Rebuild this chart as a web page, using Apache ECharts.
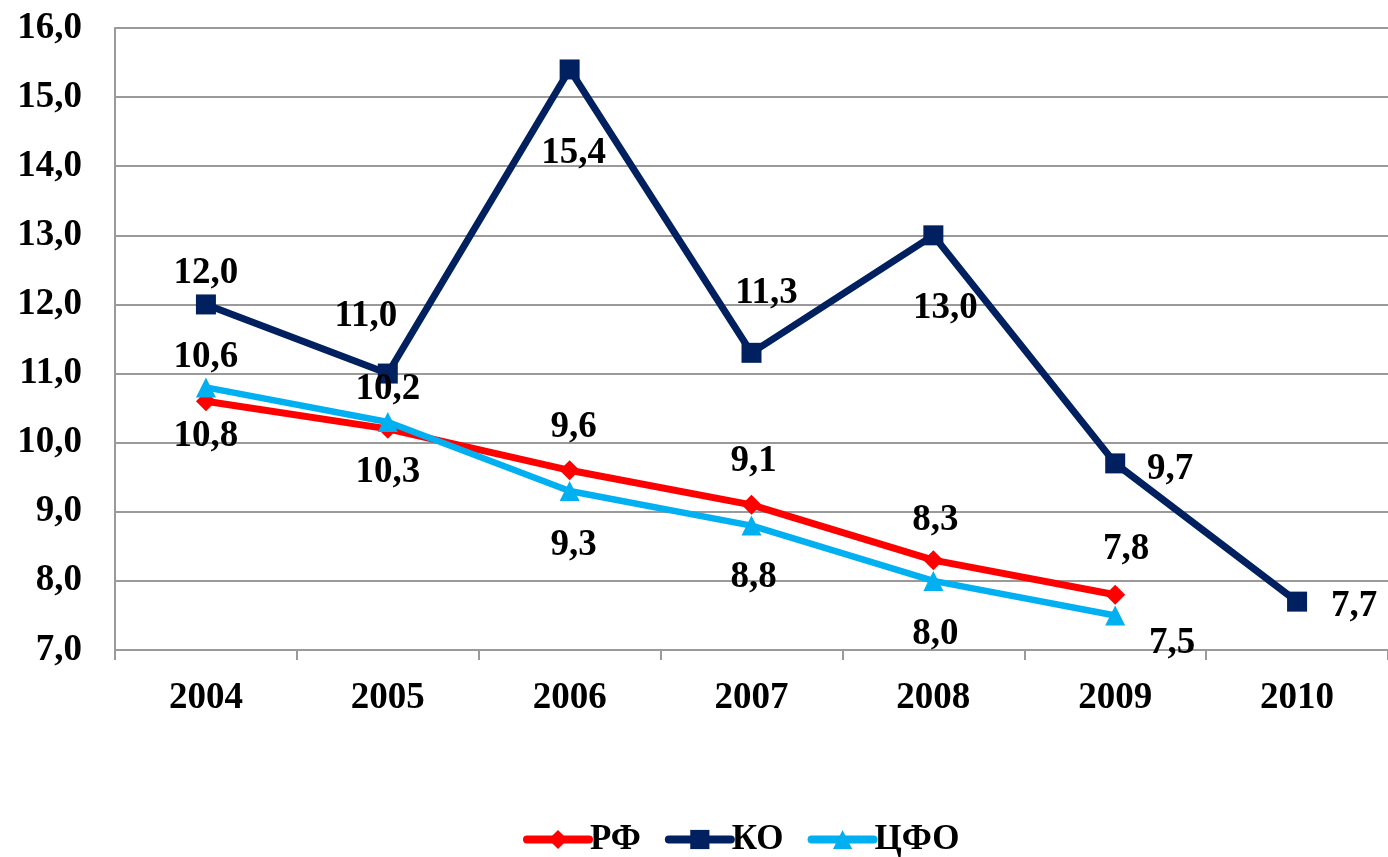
<!DOCTYPE html>
<html>
<head>
<meta charset="utf-8">
<script src="https://cdn.jsdelivr.net/npm/echarts@6/dist/echarts.min.js"></script>
<style>
html,body{margin:0;padding:0;background:#fff;}
#chart{width:1388px;height:857px;}
</style>
</head>
<body>
<div id="chart"></div>
<script>
var categories = ['2004','2005','2006','2007','2008','2009','2010'];
var seriesNames = ['РФ','КО','ЦФО'];
var valuesRF  = [10.6, 10.2, 9.6, 9.1, 8.3, 7.8, null];
var valuesKO  = [12.0, 11.0, 15.4, 11.3, 13.0, 9.7, 7.7];
var valuesCFO = [10.8, 10.3, 9.3, 8.8, 8.0, 7.5, null];

// label placement (style only)
var offRF  = [[0,-44],[0,-39],[4,-43],[2,-43],[2,-40],[11,-45],[0,0]];
var offKO  = [[0,-31],[-22,-57],[4,84],[15,-59],[12,73],[55,6],[57,5]];
var offCFO = [[0,49],[0,51],[4,54],[2,52],[2,54],[57,28],[0,0]];

var FONT = '"Liberation Serif", "Times New Roman", serif';
var GRAY = '#9a9a9a';

function fmt(v){ return v.toFixed(1).replace('.', ','); }
function build(vals, offs){
  return vals.map(function(v,i){
    if (v === null) return null;
    return {value: v, label: {offset: offs[i]}};
  });
}
function labelCfg(){
  return {
    show: true, position: 'inside', color: '#000',
    fontFamily: FONT, fontWeight: 'bold', fontSize: 37,
    formatter: function(p){ return fmt(p.value); }
  };
}

var chart = echarts.init(document.getElementById('chart'), null, {renderer:'canvas'});
chart.setOption({
  animation: false,
  backgroundColor: '#fff',
  grid: {left: 115, top: 28, width: 1276, height: 622, containLabel: false},
  legend: {
    data: seriesNames,
    left: 518, top: 817,
    itemWidth: 62, itemHeight: 24, itemGap: 24,
    lineStyle: {width: 8, cap: 'round'},
    textStyle: {fontFamily: FONT, fontWeight: 'bold', fontSize: 35, color: '#000', padding: [0,0,0,-4]}
  },
  xAxis: {
    type: 'category', data: categories, boundaryGap: true,
    axisLine: {show: true, lineStyle: {color: GRAY, width: 2}},
    axisTick: {show: true, length: 10, lineStyle: {color: GRAY, width: 2}},
    axisLabel: {margin: 30, color: '#000', fontFamily: FONT, fontWeight: 'bold', fontSize: 37},
    splitLine: {show: false}
  },
  yAxis: {
    type: 'value', min: 7, max: 16, interval: 1,
    axisLine: {show: true, lineStyle: {color: GRAY, width: 2}},
    axisTick: {show: false},
    axisLabel: {margin: 33, color: '#000', fontFamily: FONT, fontWeight: 'bold', fontSize: 37,
      formatter: function(v){ return fmt(v); }},
    splitLine: {show: true, lineStyle: {color: GRAY, width: 2}}
  },
  series: [
    {
      name: 'РФ', type: 'line', data: build(valuesRF, offRF),
      symbol: 'diamond', symbolSize: 20, showAllSymbol: true,
      lineStyle: {color: '#FF0000', width: 7},
      itemStyle: {color: '#FF0000'},
      label: labelCfg(), z: 3
    },
    {
      name: 'КО', type: 'line', data: build(valuesKO, offKO),
      symbol: 'rect', symbolSize: 20, showAllSymbol: true,
      lineStyle: {color: '#002060', width: 7},
      itemStyle: {color: '#002060'},
      label: labelCfg(), z: 2
    },
    {
      name: 'ЦФО', type: 'line', data: build(valuesCFO, offCFO),
      symbol: 'triangle', symbolSize: 20, showAllSymbol: true,
      lineStyle: {color: '#00B0F0', width: 6.5},
      itemStyle: {color: '#00B0F0'},
      label: labelCfg(), z: 4
    }
  ]
});
</script>
</body>
</html>
